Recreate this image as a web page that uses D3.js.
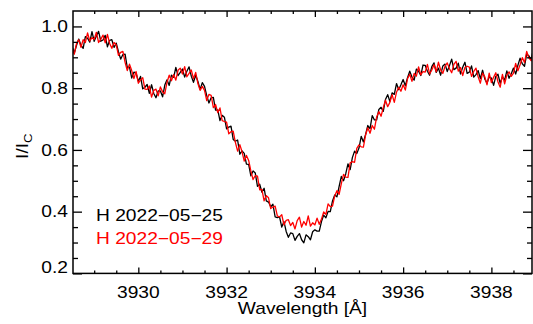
<!DOCTYPE html>
<html>
<head>
<meta charset="utf-8">
<script src="https://cdn.jsdelivr.net/npm/d3@7"></script>
<style>
  body { margin: 0; background: #fff; }
  svg { display: block; }
  text { font-family: "Liberation Sans", Arial, Helvetica, sans-serif; }
</style>
</head>
<body>
<div class="spectrum"></div>
<script>
// wavelength sampling of both spectra (Angstrom)
var WL_START = 3928.50;
var WL_STEP = 0.05;

// H 2022-05-25 (black)
var fluxMay25 = [
  0.935, 0.914, 0.939, 0.959, 0.939, 0.929, 0.967, 0.962, 0.949, 0.983,
  0.952, 0.969, 0.984, 0.952, 0.956, 0.971, 0.934, 0.955, 0.957, 0.932,
  0.946, 0.918, 0.894, 0.909, 0.910, 0.867, 0.868, 0.833, 0.852, 0.849,
  0.822, 0.838, 0.798, 0.803, 0.812, 0.783, 0.811, 0.783, 0.769, 0.791,
  0.791, 0.772, 0.810, 0.827, 0.809, 0.842, 0.835, 0.867, 0.841, 0.851,
  0.862, 0.836, 0.855, 0.869, 0.839, 0.819, 0.842, 0.822, 0.796, 0.818,
  0.806, 0.776, 0.752, 0.769, 0.770, 0.729, 0.730, 0.695, 0.712, 0.706,
  0.668, 0.674, 0.677, 0.634, 0.628, 0.632, 0.586, 0.597, 0.589, 0.554,
  0.553, 0.516, 0.532, 0.525, 0.482, 0.489, 0.463, 0.476, 0.435, 0.431,
  0.416, 0.424, 0.383, 0.381, 0.383, 0.350, 0.368, 0.336, 0.317, 0.331,
  0.329, 0.307, 0.320, 0.329, 0.309, 0.299, 0.325, 0.319, 0.309, 0.335,
  0.341, 0.337, 0.337, 0.368, 0.389, 0.380, 0.401, 0.400, 0.435, 0.454,
  0.448, 0.482, 0.514, 0.500, 0.523, 0.555, 0.536, 0.575, 0.596, 0.588,
  0.606, 0.644, 0.626, 0.650, 0.679, 0.669, 0.711, 0.697, 0.697, 0.731,
  0.738, 0.725, 0.763, 0.779, 0.757, 0.785, 0.780, 0.815, 0.795, 0.811,
  0.828, 0.808, 0.834, 0.855, 0.836, 0.826, 0.862, 0.855, 0.841, 0.875,
  0.874, 0.855, 0.842, 0.870, 0.882, 0.851, 0.865, 0.842, 0.872, 0.878,
  0.854, 0.873, 0.894, 0.860, 0.865, 0.881, 0.846, 0.868, 0.884, 0.848,
  0.852, 0.872, 0.836, 0.844, 0.857, 0.831, 0.858, 0.830, 0.816, 0.837,
  0.833, 0.809, 0.838, 0.845, 0.816, 0.837, 0.826, 0.856, 0.832, 0.847,
  0.865, 0.846, 0.874, 0.897, 0.879, 0.871, 0.910, 0.905, 0.892, 0.926
];

// H 2022-05-29 (red)
var fluxMay29 = [
  0.928, 0.910, 0.945, 0.957, 0.932, 0.957, 0.948, 0.979, 0.953, 0.964,
  0.958, 0.981, 0.948, 0.958, 0.972, 0.947, 0.974, 0.945, 0.929, 0.948,
  0.940, 0.906, 0.916, 0.919, 0.884, 0.857, 0.878, 0.857, 0.831, 0.854,
  0.816, 0.826, 0.834, 0.797, 0.796, 0.807, 0.771, 0.793, 0.797, 0.775,
  0.804, 0.788, 0.782, 0.819, 0.842, 0.824, 0.844, 0.826, 0.858, 0.865,
  0.846, 0.870, 0.837, 0.848, 0.859, 0.831, 0.851, 0.815, 0.793, 0.806,
  0.793, 0.760, 0.780, 0.777, 0.737, 0.747, 0.721, 0.736, 0.695, 0.692,
  0.690, 0.652, 0.659, 0.661, 0.624, 0.596, 0.617, 0.594, 0.564, 0.582,
  0.566, 0.532, 0.504, 0.517, 0.515, 0.471, 0.472, 0.435, 0.452, 0.445,
  0.410, 0.415, 0.418, 0.386, 0.383, 0.390, 0.357, 0.372, 0.374, 0.355,
  0.365, 0.344, 0.371, 0.382, 0.350, 0.368, 0.356, 0.386, 0.353, 0.364,
  0.357, 0.379, 0.359, 0.376, 0.399, 0.391, 0.425, 0.416, 0.418, 0.451,
  0.468, 0.456, 0.491, 0.521, 0.512, 0.511, 0.558, 0.562, 0.560, 0.605,
  0.616, 0.610, 0.609, 0.649, 0.672, 0.654, 0.679, 0.667, 0.707, 0.724,
  0.709, 0.737, 0.761, 0.740, 0.754, 0.779, 0.754, 0.787, 0.803, 0.790,
  0.811, 0.794, 0.831, 0.845, 0.822, 0.848, 0.839, 0.869, 0.843, 0.854,
  0.852, 0.877, 0.846, 0.859, 0.876, 0.853, 0.884, 0.859, 0.848, 0.871,
  0.882, 0.863, 0.850, 0.877, 0.887, 0.855, 0.867, 0.841, 0.867, 0.871,
  0.868, 0.838, 0.854, 0.865, 0.837, 0.816, 0.849, 0.837, 0.811, 0.849,
  0.818, 0.835, 0.850, 0.820, 0.803, 0.845, 0.814, 0.842, 0.853, 0.838,
  0.849, 0.880, 0.856, 0.876, 0.899, 0.883, 0.919, 0.898, 0.889, 0.914
];

var xMajor = [3930, 3932, 3934, 3936, 3938];
var xMinor = [3929, 3929.5, 3930.5, 3931, 3931.5, 3932.5, 3933, 3933.5, 3934.5, 3935, 3935.5, 3936.5, 3937, 3937.5, 3938.5];
var yMajor = [0.2, 0.4, 0.6, 0.8, 1.0];
var yMinor = [0.25, 0.3, 0.35, 0.45, 0.5, 0.55, 0.65, 0.7, 0.75, 0.85, 0.9, 0.95];

var legendLabels = ["H 2022\u221205\u221225", "H 2022\u221205\u221229"];
var seriesColors = ["#000000", "#ff0000"];

var width = 533, height = 324;
var margin = {top: 11, right: 1, bottom: 50.6, left: 73};
var plotW = width - margin.left - margin.right;
var plotH = height - margin.top - margin.bottom;
var STRETCH = "scale(1.2,1)"; // IDL font is wider than Helvetica

var svg = d3.select(".spectrum").append("svg")
    .attr("width", width)
    .attr("height", height);

var xScale = d3.scaleLinear().domain([3928.52, 3938.92]).range([0, plotW]);
var yScale = d3.scaleLinear().domain([0.2, 1.05]).range([plotH, 0]);

var g = svg.append("g")
    .attr("transform", "translate(" + margin.left + "," + margin.top + ")");

g.append("clipPath").attr("id", "clip")
  .append("rect").attr("width", plotW).attr("height", plotH);

// spectra
var line = d3.line()
    .x(function(d, i) { return xScale(WL_START + i * WL_STEP); })
    .y(function(d) { return yScale(d); });

[fluxMay25, fluxMay29].forEach(function(series, k) {
  g.append("path")
    .datum(series)
    .attr("clip-path", "url(#clip)")
    .attr("fill", "none")
    .attr("stroke", seriesColors[k])
    .attr("stroke-width", 1.3)
    .attr("stroke-linejoin", "round")
    .attr("d", line);
});

// ticks on all four sides, pointing inwards
function tickAxis(axis, values, len, transform) {
  var a = g.append("g")
    .attr("transform", transform)
    .call(axis.tickValues(values).tickSize(len).tickSizeOuter(0).tickFormat(""));
  a.select(".domain").remove();
  a.selectAll("line").attr("stroke", "#000").attr("stroke-width", 1.3);
}
tickAxis(d3.axisBottom(xScale), xMajor, -6, "translate(0," + plotH + ")");
tickAxis(d3.axisBottom(xScale), xMinor, -3, "translate(0," + plotH + ")");
tickAxis(d3.axisTop(xScale), xMajor, -6, "translate(0,0)");
tickAxis(d3.axisTop(xScale), xMinor, -3, "translate(0,0)");
tickAxis(d3.axisLeft(yScale), yMajor, -9, "translate(0,0)");
tickAxis(d3.axisLeft(yScale), yMinor, -5, "translate(0,0)");
tickAxis(d3.axisRight(yScale), yMajor, -9, "translate(" + plotW + ",0)");
tickAxis(d3.axisRight(yScale), yMinor, -5, "translate(" + plotW + ",0)");

// frame
g.append("rect")
  .attr("width", plotW)
  .attr("height", plotH)
  .attr("fill", "none")
  .attr("stroke", "#000")
  .attr("stroke-width", 1.5);

// tick labels
g.selectAll(".xlab")
  .data(xMajor)
  .enter().append("text")
  .attr("class", "xlab")
  .attr("transform", function(d) { return "translate(" + xScale(d) + "," + (plotH + 24.6) + ") " + STRETCH; })
  .attr("text-anchor", "middle")
  .attr("font-size", 16)
  .text(function(d) { return d; });

g.selectAll(".ylab")
  .data(yMajor)
  .enter().append("text")
  .attr("class", "ylab")
  .attr("transform", function(d) {
    var yy = Math.min(yScale(d) + 5.7, plotH);
    return "translate(-5," + yy + ") " + STRETCH;
  })
  .attr("text-anchor", "end")
  .attr("font-size", 16)
  .text(function(d) { return d3.format(".1f")(d); });

// axis titles
g.append("text")
  .attr("transform", "translate(" + (plotW / 2) + "," + (plotH + 41) + ") " + STRETCH)
  .attr("text-anchor", "middle")
  .attr("font-size", 16)
  .text("Wavelength [\u00c5]");

var ylab = svg.append("text")
  .attr("transform", "translate(27.5," + (margin.top + plotH / 2 + 4) + ") rotate(-90) " + STRETCH)
  .attr("text-anchor", "middle")
  .attr("font-size", 16);
ylab.append("tspan").text("I/I");
ylab.append("tspan").attr("font-size", 11).attr("dy", 4).text("C");

// legend
g.selectAll(".legend")
  .data(legendLabels)
  .enter().append("text")
  .attr("class", "legend")
  .attr("transform", function(d, i) { return "translate(23," + (209.7 + i * 23.3) + ") " + STRETCH; })
  .attr("fill", function(d, i) { return seriesColors[i]; })
  .attr("font-size", 16)
  .text(function(d) { return d; });
</script>
</body>
</html>
